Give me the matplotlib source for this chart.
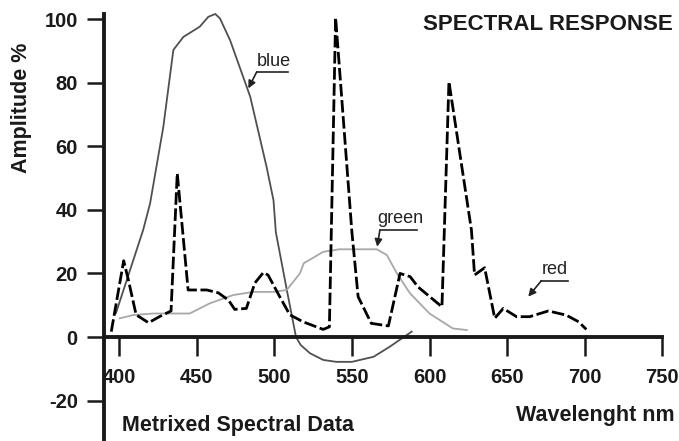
import matplotlib
matplotlib.use("Agg")
import matplotlib.pyplot as plt
from matplotlib import font_manager

# spectral response curves
blue_wl = [398, 415.5, 420, 428.5, 435, 441.5, 452, 457.5, 462, 465, 471.5, 484.5,
           495, 499.5, 501, 508, 514, 517, 523, 531.5, 540, 550, 564, 574.5, 588.5]
blue_amp = [7.5, 33.6, 42, 66, 90.3, 94.4, 97.6, 100.7, 101.6, 100.2, 93.4, 75.6,
            53.6, 43, 33, 15, 0, -2.5, -5.1, -7.2, -7.8, -7.8, -6.2, -3, 1.7]

green_wl = [400.5, 409, 422, 445.5, 458.5, 473.5, 486.5, 499.5, 508, 516.5, 519,
            531.5, 542, 566, 572.5, 579, 587.5, 600, 615, 624]
green_amp = [5.9, 6.9, 7.4, 7.4, 10.6, 13.2, 14.2, 14.2, 14.8, 20, 23.2,
             26.8, 27.6, 27.6, 25.8, 20, 13.7, 7.4, 2.7, 2.2]

red_wl = [395, 403, 406, 411, 419, 426, 433.5, 437.5, 444.5, 456.5, 464, 470.5,
          474.5, 482, 487.5, 493, 496, 503.5, 510, 518.5, 531.5, 535.5, 539.5, 550,
          554, 562.5, 573.5, 581, 587.5, 592.5, 608, 612.5, 627, 629, 635.5, 642,
          647.5, 656, 664.5, 676.5, 688, 696, 701]
red_amp = [1.7, 24, 18, 7, 4.5, 6.4, 8.2, 51.5, 14.8, 14.8, 13.9, 11.6,
           8.7, 9, 17, 20.3, 19.5, 12.7, 7, 4.8, 2.4, 3.2, 100.5, 33,
           12.7, 4.3, 3.5, 20, 19, 15.8, 9.5, 80.3, 33.6, 19.5, 21.8, 5.9,
           9, 6.4, 6.4, 8.2, 6.9, 4.8, 2.4]

x_ticks = [400, 450, 500, 550, 600, 650, 700, 750]
y_ticks = [-20, 0, 20, 40, 60, 80, 100]

# label, text pos, underline x-range, arrow tip
notes = [
    ("blue", (499.5, 86.5), (488.7, 509), 83.4, (483.3, 78.2)),
    ("green", (581, 37.3), (568, 591.7), 33.6, (566.3, 28.4)),
    ("red", (680.4, 21.3), (672, 689.3), 17.7, (663.6, 12.7)),
]


def pick(fam):
    try:
        font_manager.findfont(fam, fallback_to_default=False)
        return fam, True
    except Exception:
        return "Liberation Sans", False


BOLD = "Liberation Sans"
NARROW, has_narrow = pick("Liberation Sans Narrow")
note_size = 14.5 if has_narrow else 13
plt.rcParams['font.family'] = [BOLD, 'DejaVu Sans']

fig = plt.figure(figsize=(6.79, 4.41), dpi=100)
ax = fig.add_axes([0.141, 0.0014, 0.846, 0.977])
ax.set_xlim(385, 755)
ax.set_ylim(-32.5, 103)

ax.plot(blue_wl, blue_amp, color="#505050", lw=1.3)
ax.plot(green_wl, green_amp, color="#a8a8a8", lw=1.3)
ax.plot(red_wl, red_amp, color="black", lw=2.0, linestyle=(0, (4.5, 1.3)))

for lab, tpos, ux, uy, tip in notes:
    ax.text(tpos[0], tpos[1], lab, ha="center", va="center", fontsize=note_size,
            family=[NARROW, "DejaVu Sans"], color="#222222")
    ax.plot(list(ux), [uy, uy], color="#222222", lw=1.2)
    ax.annotate("", xy=tip, xytext=(ux[0], uy),
                arrowprops=dict(arrowstyle="-|>", color="#222222", lw=1.2,
                                mutation_scale=11, shrinkA=0, shrinkB=0))

for s in ["top", "right"]:
    ax.spines[s].set_visible(False)
ax.spines["left"].set_position(("data", 390))
ax.spines["bottom"].set_position(("data", 0))
ax.spines["left"].set_bounds(-32.5, 101.5)
ax.spines["bottom"].set_bounds(390, 750)
for s in ["left", "bottom"]:
    ax.spines[s].set_linewidth(2.8)
    ax.spines[s].set_color("#1a1a1a")

ax.set_xticks(x_ticks)
ax.set_yticks(y_ticks)
ax.set_xticklabels([str(v) for v in x_ticks])
ax.set_yticklabels([str(v) for v in y_ticks])
ax.tick_params(axis="x", direction="out", length=14, width=1.8, pad=8,
               labelsize=14.5, color="#1a1a1a")
ax.tick_params(axis="y", direction="out", length=12, width=1.8, pad=6.5,
               labelsize=14.5, color="#1a1a1a")
for t in ax.get_xticklabels() + ax.get_yticklabels():
    t.set_fontweight("bold")
    t.set_color("#1a1a1a")

fig.text(673 / 679, 1 - 25 / 441, "SPECTRAL RESPONSE", ha="right", va="center",
         fontsize=16, fontweight="bold", color="#1a1a1a")
fig.text(22 / 679, 1 - 108 / 441, "Amplitude %", ha="center", va="center",
         rotation=90, fontsize=15.5, fontweight="bold", color="#1a1a1a")
fig.text(122 / 679, 1 - 425 / 441, "Metrixed Spectral Data", ha="left", va="center",
         fontsize=15.5, fontweight="bold", color="#1a1a1a")
fig.text(675 / 679, 1 - 415 / 441, "Wavelenght nm", ha="right", va="center",
         fontsize=15.5, fontweight="bold", color="#1a1a1a")

fig.savefig("out.png", dpi=100)
